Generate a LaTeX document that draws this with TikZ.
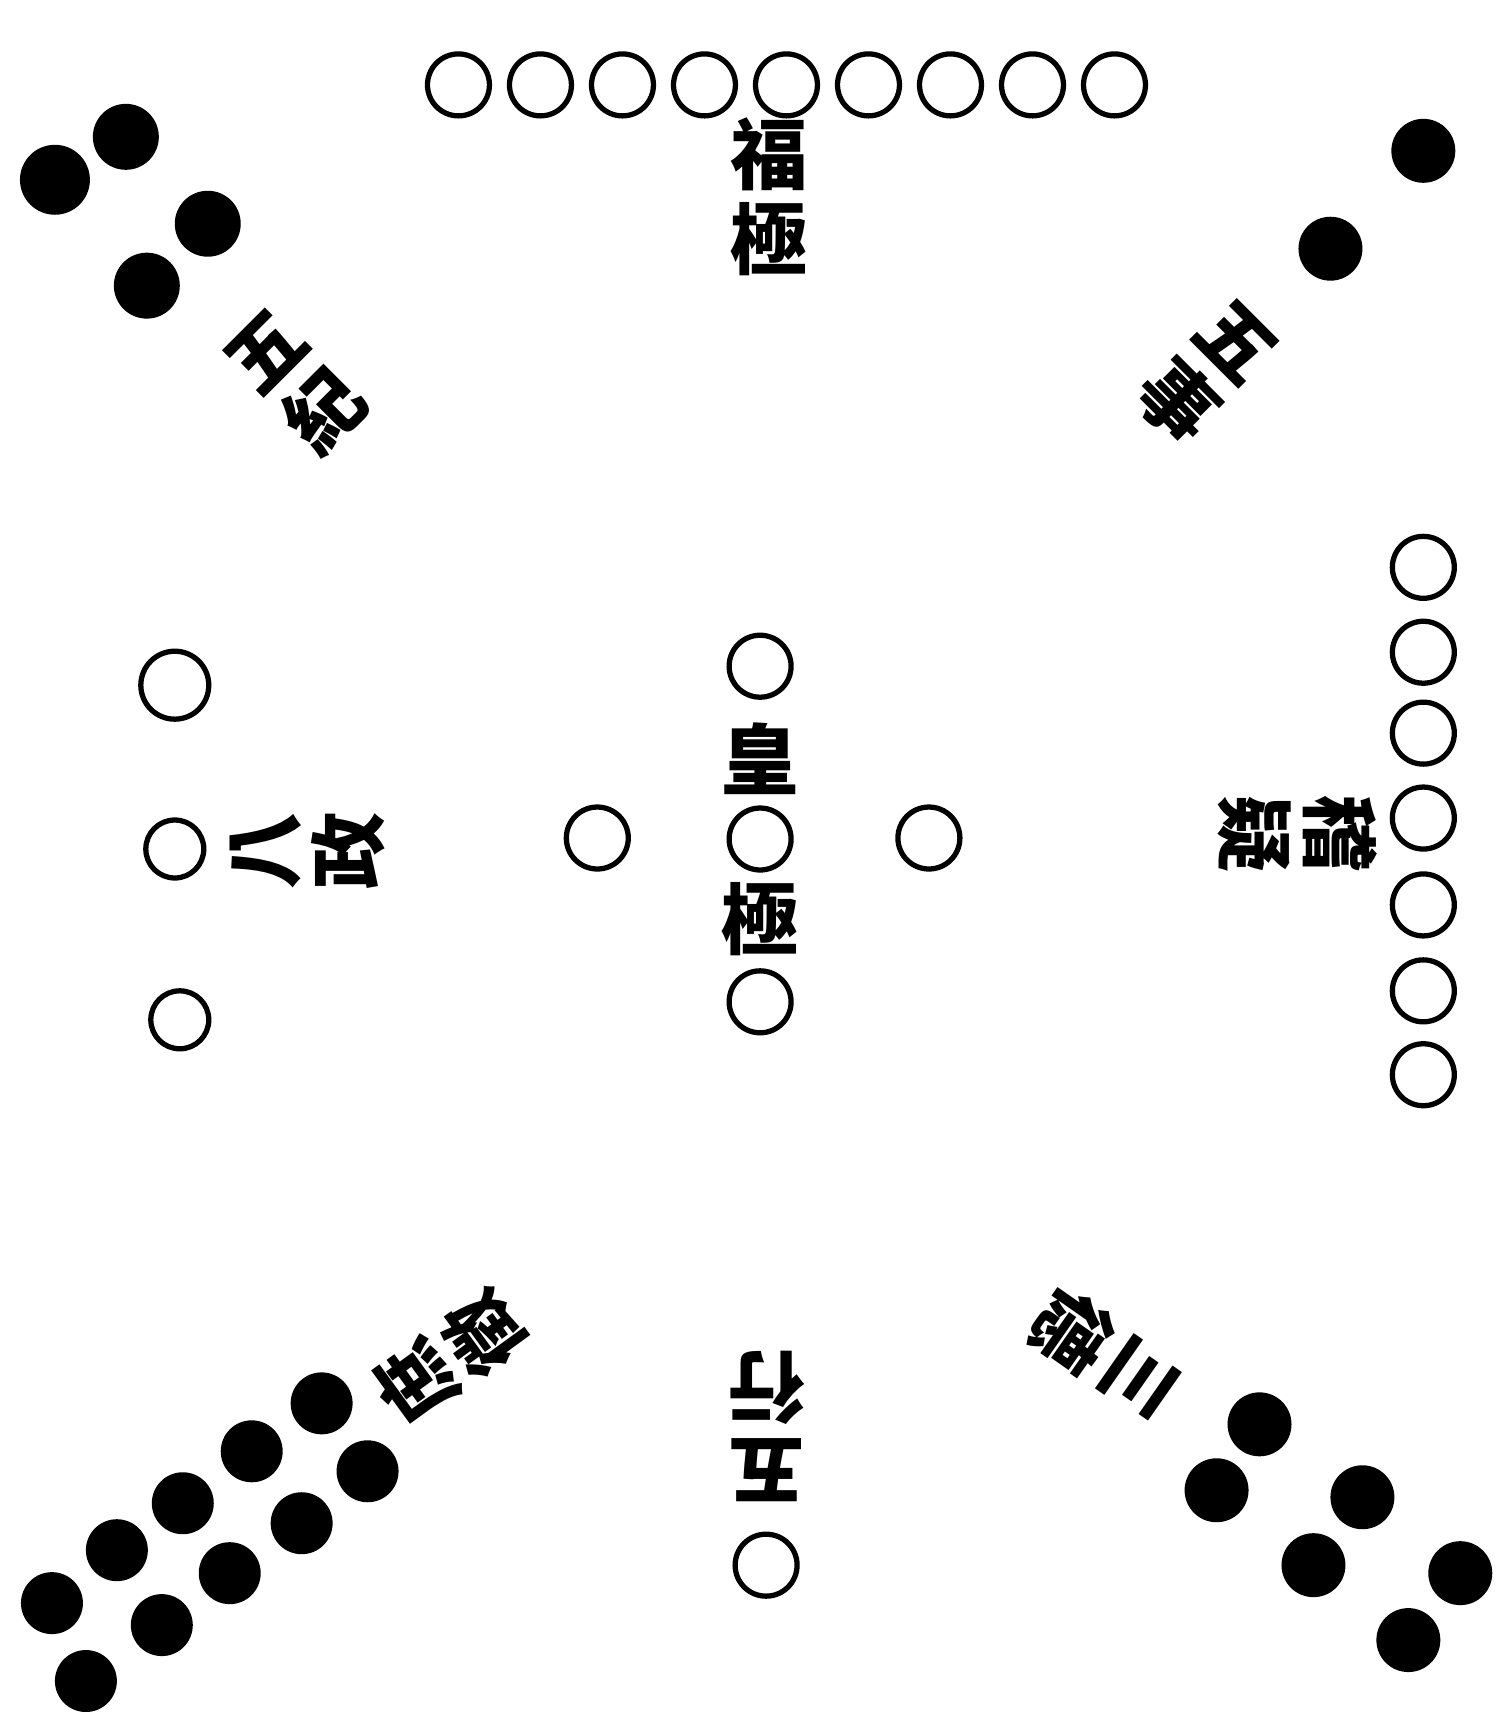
\documentclass[tikz,border=0pt]{standalone}
\usepackage{fontspec}
\newfontfamily\cjk{Noto Sans CJK TC}
\begin{document}
\begin{tikzpicture}[x=0.01cm, y=-0.01cm,
    yang/.style={circle, draw, line width=1.5pt, minimum size=0.62cm, inner sep=0pt},
    yin/.style={circle, fill, minimum size=#1, inner sep=0pt},
    yin/.default=0.62cm,
    zi/.style={font=\cjk\bfseries\fontsize{22}{24}\selectfont, inner sep=0pt, align=center}]
            \fill[white] (0,0) rectangle (1505,1712);

            \foreach \i in {1,...,9}
                \node[yang] (t\i) at ({459+82.1*(\i-1)},85) {};
            \node[zi] (fuji) at (770,197) {福\\極};

            \node[yin=0.70cm] (w1) at (55,180) {};
            \node[yin=0.66cm] (w2) at (126,137) {};
            \node[yin=0.66cm] (w3) at (147,286) {};
            \node[yin=0.66cm] (w4) at (208,224) {};
            \node[zi, rotate=45] (wuji) at (297,383) {五\\紀};

            \node[yin=0.64cm] (s1) at (1425,151) {};
            \node[yin=0.64cm] (s2) at (1332,249) {};
            \node[zi, rotate=-45] (wushi) at (1207,374) {五\\事};

            \node[yang, minimum size=0.68cm] (b1) at (175,686) {};
            \node[yang, minimum size=0.58cm] (b2) at (175,850) {};
            \node[yang, minimum size=0.58cm] (b3) at (180,1021) {};
            \node[zi, rotate=90] (bazheng) at (308,852) {八\\政};

            \node[yang] (h1) at (761,667) {};
            \node[zi] (huang) at (761,760) {皇};
            \node[yang] (h2) at (761,840) {};
            \node[zi] (ji) at (761,920) {極};
            \node[yang] (h3) at (761,1003) {};
            \node[yang] (h4) at (598,839) {};
            \node[yang] (h5) at (930,839) {};

            \foreach \y [count=\i] in {568,653,734,819,906,992,1076}
                \node[yang] (q\i) at (1425,\y) {};
            \node[zi, rotate=-90] (jiyi) at (1299,835) {稽\\疑};

            \node[zi, rotate=180] (wuxing) at (768,1428) {五\\行};
            \node[yang] (x1) at (767,1567) {};

            \foreach \x/\y [count=\i] in {52/1605,117/1552,183/1505,252/1453,322/1405,86/1683,162/1627,230/1575,302/1525,368/1473}
                \node[yin] (z\i) at (\x,\y) {};
            \node[zi, rotate=126] (shuzheng) at (450,1360) {庶\\徵};

            \foreach \x/\y [count=\i] in {1261/1426,1218/1492,1364/1499,1315/1567,1462/1575,1410/1642}
                \node[yin=0.64cm] (d\i) at (\x,\y) {};
            \node[zi, rotate=-125] (sande) at (1105,1355) {三\\德};

        \end{tikzpicture}
\end{document}
